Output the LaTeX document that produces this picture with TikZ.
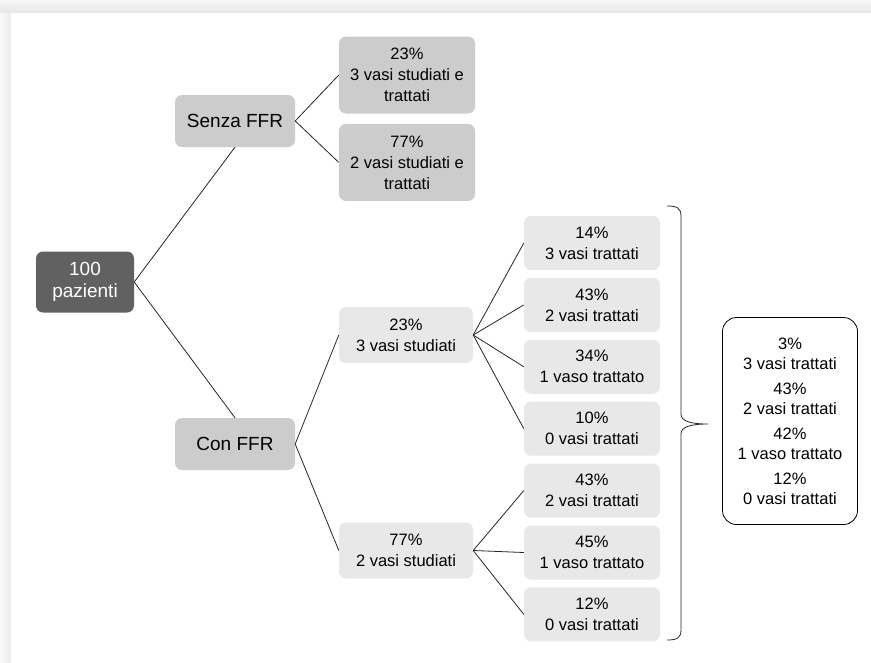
\documentclass[tikz,border=0pt]{standalone}
\usepackage{fontspec}
\setmainfont{Liberation Sans}
\usetikzlibrary{positioning}

\begin{document}
\begin{tikzpicture}[
    x=1pt, y=-1pt,
    node distance=7.5pt and 51pt,
    rootbox/.style={rectangle, rounded corners=7pt, fill=black!62, text=white, minimum width=98pt, minimum height=61pt, align=center, font=\fontsize{19}{22}\selectfont},
    groupbox/.style={rectangle, rounded corners=7pt, fill=black!20, minimum width=120pt, minimum height=52pt, align=center, font=\fontsize{19}{22}\selectfont},
    outbox/.style={rectangle, rounded corners=7pt, fill=black!20, minimum width=136pt, minimum height=77pt, align=center, font=\fontsize{16.5}{21}\selectfont},
    subbox/.style={rectangle, rounded corners=7pt, fill=black!9, minimum width=134pt, minimum height=56pt, align=center, font=\fontsize{16.5}{21}\selectfont},
    leafbox/.style={rectangle, rounded corners=7pt, fill=black!9, minimum width=136pt, minimum height=54pt, align=center, font=\fontsize{16.5}{21}\selectfont},
    sumbox/.style={rectangle, draw, line width=0.8pt, rounded corners=14pt, fill=white, minimum width=135pt, minimum height=207pt, align=center, font=\fontsize{16.5}{20}\selectfont},
    link/.style={draw=black!85, line width=0.8pt}
  ]
  % Frame
  \useasboundingbox (0,0) rectangle (871,662);
  \shade[top color=black!3, bottom color=black!10] (0,0) rectangle (871,13);
  \shade[left color=black!2, right color=black!8] (0,13) rectangle (11,662);
  \fill[white] (11,13) rectangle (871,662);

  % Root and groups
  \node[rootbox] (paz) at (85,282) {100\\pazienti};
  \node[groupbox] (senza) at (235,121) {Senza FFR};
  \node[groupbox] (con) at (235,444) {Con FFR};

  % Senza FFR outcomes
  \node[outbox] (s3) at (407,75) {23\%\\3 vasi studiati e\\trattati};
  \node[outbox, below=10pt of s3] (s2) {77\%\\2 vasi studiati e\\trattati};

  % Con FFR branches
  \node[subbox] (c3) at (406,335) {23\%\\3 vasi studiati};
  \node[subbox] (c2) at (406,550.5) {77\%\\2 vasi studiati};

  % Treated vessels
  \node[leafbox] (t3) at (592,243) {14\%\\3 vasi trattati};
  \node[leafbox, below=of t3] (t2) {43\%\\2 vasi trattati};
  \node[leafbox, below=of t2] (t1) {34\%\\1 vaso trattato};
  \node[leafbox, below=of t1] (t0) {10\%\\0 vasi trattati};
  \node[leafbox, below=of t0] (u2) {43\%\\2 vasi trattati};
  \node[leafbox, below=of u2] (u1) {45\%\\1 vaso trattato};
  \node[leafbox, below=of u1] (u0) {12\%\\0 vasi trattati};

  % Summary
  \node[sumbox] (tot) at (790,421) {3\%\\3 vasi trattati\\[5pt]43\%\\2 vasi trattati\\[5pt]42\%\\1 vaso trattato\\[5pt]12\%\\0 vasi trattati};

  % Links
  \draw[link] (paz.east) -- (senza.south);
  \draw[link] (paz.east) -- (con.north);
  \draw[link] (senza.east) -- (s3.west);
  \draw[link] (senza.east) -- (s2.west);
  \draw[link] (con.east) -- (c3.west);
  \draw[link] (con.east) -- (c2.west);
  \foreach \n in {t3,t2,t1,t0}
    \draw[link] (c3.east) -- (\n.west);
  \foreach \n in {u2,u1,u0}
    \draw[link] (c2.east) -- (\n.west);

  % Brace
  \coordinate (brN) at (667,206);
  \coordinate (brS) at (667,640);
  \coordinate (brTip) at (708,424);
  \draw[link] (brN) .. controls (677,206) and (681,208) .. (681,216) -- (681,414)
    .. controls (681,421) and (690,424) .. (brTip)
    .. controls (690,424) and (681,427) .. (681,434) -- (681,630)
    .. controls (681,638) and (677,640) .. (brS);
\end{tikzpicture}
\end{document}
